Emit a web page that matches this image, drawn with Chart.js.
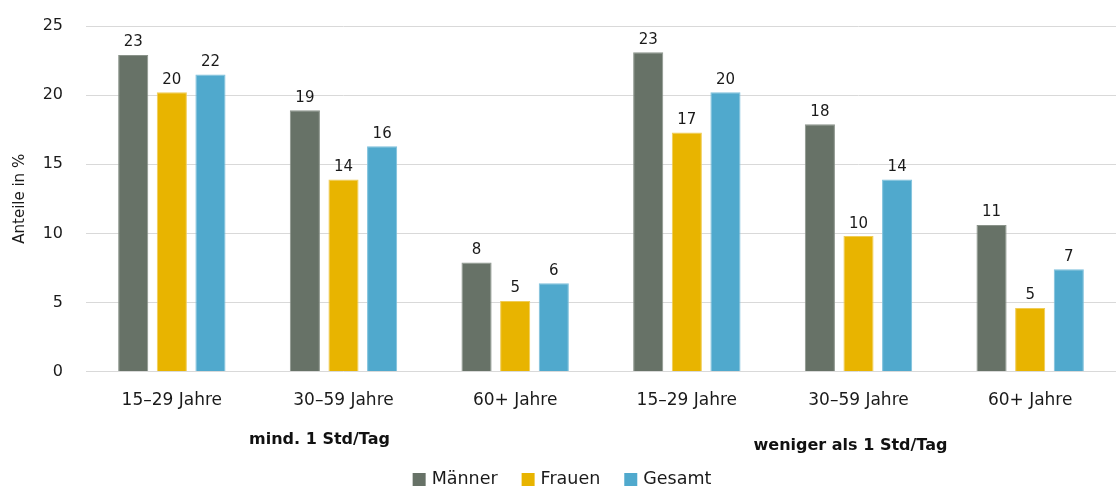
<!DOCTYPE html>
<html>
<head>
<meta charset="utf-8">
<script src="https://cdn.jsdelivr.net/npm/chart.js@4/dist/chart.umd.min.js"></script>
<style>
  html, body { margin: 0; padding: 0; background: #ffffff; }
  #wrap { width: 1116px; height: 487px; }
</style>
</head>
<body>
<div id="wrap"><canvas id="c"></canvas></div>
<script>
// Age groups, repeated for both usage levels
const categories = ['15–29 Jahre', '30–59 Jahre', '60+ Jahre', '15–29 Jahre', '30–59 Jahre', '60+ Jahre'];
// Usage-level headings, each spanning three age groups
const groupTitles = ['mind. 1 Std/Tag', 'weniger als 1 Std/Tag'];

// Shares in percent
const maenner = [22.9, 18.9, 7.9, 23.1, 17.9, 10.6];
const frauen  = [20.2, 13.9, 5.1, 17.3, 9.8, 4.6];
const gesamt  = [21.5, 16.3, 6.4, 20.2, 13.9, 7.4];

const yTicks = [0, 5, 10, 15, 20, 25];

const FONT = "'DejaVu Sans', Verdana, sans-serif";

// Value labels above each bar (rounded to whole percent)
const valueLabels = {
  id: 'valueLabels',
  afterDatasetsDraw(chart) {
    const ctx = chart.ctx;
    ctx.save();
    ctx.font = '15px ' + FONT;
    ctx.fillStyle = '#1a1a1a';
    ctx.textAlign = 'center';
    ctx.textBaseline = 'bottom';
    chart.data.datasets.forEach((ds, i) => {
      const meta = chart.getDatasetMeta(i);
      meta.data.forEach((bar, j) => {
        ctx.fillText(String(Math.round(ds.data[j])), bar.x, bar.y - 5);
      });
    });
    ctx.restore();
  }
};

// Headings under the age-group labels
const groupHeadings = {
  id: 'groupHeadings',
  afterDraw(chart) {
    const x = chart.scales.x;
    const ctx = chart.ctx;
    ctx.save();
    ctx.font = 'bold 16px ' + FONT;
    ctx.fillStyle = '#111111';
    ctx.textAlign = 'center';
    ctx.textBaseline = 'middle';
    const offsets = [{ dx: -24, y: 440 }, { dx: -8, y: 446 }];
    groupTitles.forEach((t, g) => {
      const a = x.getPixelForValue(g * 3);
      const b = x.getPixelForValue(g * 3 + 2);
      ctx.fillText(t, (a + b) / 2 + offsets[g].dx, offsets[g].y);
    });
    ctx.restore();
  }
};

// Series key along the bottom edge
const bottomKey = {
  id: 'bottomKey',
  afterDraw(chart) {
    const ctx = chart.ctx;
    const box = 13, gap = 6, spacing = 24, cy = 479;
    ctx.save();
    ctx.font = '17.5px ' + FONT;
    ctx.textBaseline = 'middle';
    ctx.textAlign = 'left';
    const items = chart.data.datasets.map(ds => ({
      text: ds.label, color: ds.backgroundColor, w: ctx.measureText(ds.label).width
    }));
    const total = items.reduce((s, it) => s + box + gap + it.w, 0) + spacing * (items.length - 1);
    let x = chart.width / 2 + 4 - total / 2;
    items.forEach(it => {
      ctx.fillStyle = it.color;
      ctx.fillRect(x, cy - 6, box, box);
      ctx.fillStyle = '#1a1a1a';
      ctx.fillText(it.text, x + box + gap, cy);
      x += box + gap + it.w + spacing;
    });
    ctx.restore();
  }
};

const mk = (label, data, color, edge) => ({
  label, data,
  backgroundColor: color,
  borderColor: edge,
  borderWidth: 1,
  categoryPercentage: 0.675,
  barPercentage: 0.78
});

new Chart(document.getElementById('c'), {
  type: 'bar',
  data: {
    labels: categories,
    datasets: [
      mk('Männer', maenner, '#677267', '#8a938a'),
      mk('Frauen', frauen, '#e8b400', '#f0cc55'),
      mk('Gesamt', gesamt, '#50a9cd', '#7cc0dc')
    ]
  },
  options: {
    responsive: true,
    maintainAspectRatio: false,
    animation: false,
    layout: { padding: { top: 26, right: 0, left: 11, bottom: 57 } },
    plugins: {
      legend: { display: false },
      tooltip: { enabled: false }
    },
    scales: {
      x: {
        grid: { display: false, drawTicks: false },
        border: { display: false },
        ticks: { font: { family: FONT, size: 17 }, color: '#1a1a1a', padding: 19 }
      },
      y: {
        min: 0, max: 25,
        afterBuildTicks(scale) { scale.ticks = yTicks.map(v => ({ value: v })); },
        afterFit(scale) {
          scale.width = 75;
          // the label gap should not push the plot area down
          scale.paddingTop = 0;
        },
        grid: { color: '#d9d9d9', lineWidth: 1, drawTicks: false },
        border: { display: false },
        ticks: { font: { family: FONT, size: 16 }, color: '#1a1a1a', padding: 23 },
        title: {
          display: true,
          text: 'Anteile in %',
          font: { family: FONT, size: 15 },
          color: '#1a1a1a',
          padding: { top: 0, bottom: 4 }
        }
      }
    }
  },
  plugins: [valueLabels, groupHeadings, bottomKey]
});
</script>
</body>
</html>
